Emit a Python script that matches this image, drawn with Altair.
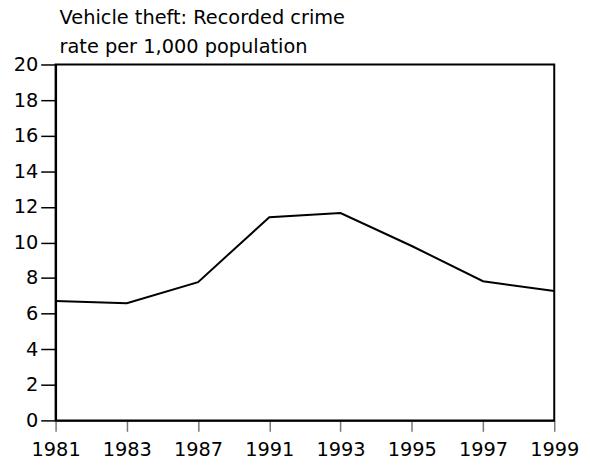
import altair as alt
import pandas as pd

years = ["1981", "1983", "1987", "1991", "1993", "1995", "1997", "1999"]
rates = [6.71, 6.58, 7.77, 11.42, 11.65, 9.8, 7.82, 7.27]
y_ticks = [0, 2, 4, 6, 8, 10, 12, 14, 16, 18, 20]
title_lines = ["Vehicle theft: Recorded crime", "rate per 1,000 population"]

df = pd.DataFrame({"year": years, "rate": rates})

FONT = "DejaVu Sans"
FS = 19.5

chart = alt.Chart(df).mark_line(color="black", strokeWidth=2).encode(
    x=alt.X("year:O", sort=years, scale=alt.Scale(padding=0, paddingInner=0, paddingOuter=0),
            axis=alt.Axis(title=None, labelAngle=0, labelFontSize=FS, labelFont=FONT,
                          labelColor="black", tickColor="#777777", tickSize=11, tickWidth=1.5,
                          domainColor="black", domainWidth=2, labelPadding=9)),
    y=alt.Y("rate:Q", scale=alt.Scale(domain=[0, 20], nice=False),
            axis=alt.Axis(title=None, values=y_ticks, labelFontSize=FS, labelFont=FONT,
                          labelColor="black", tickColor="black", tickSize=15, tickWidth=1.5,
                          domainColor="black", domainWidth=2, grid=False, labelPadding=3)),
).properties(
    width=503,
    height=359,
    title=alt.TitleParams(text=title_lines, anchor="start", frame="group", font=FONT,
                          fontSize=FS, fontWeight="normal", color="black", dx=4,
                          offset=4, lineHeight=29, dy=7),
    autosize=alt.AutoSizeParams(type="none"),
    padding={"left": 48, "top": 55, "right": 28, "bottom": 40},
).configure_view(stroke="black", strokeWidth=2)

chart.save("out.html", embed_options={"renderer": "svg", "actions": False})
